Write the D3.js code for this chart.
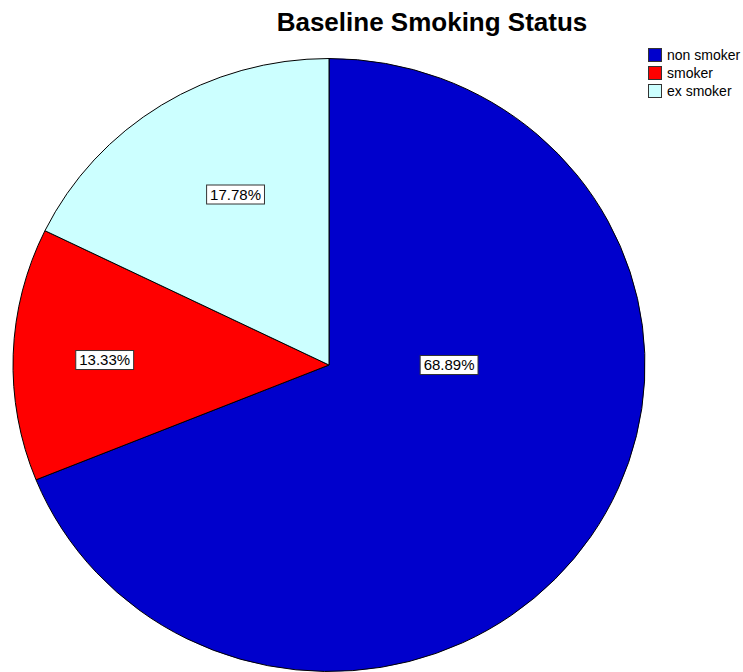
<!DOCTYPE html>
<html>
  <head>
    <title>Baseline Smoking Status</title>
    <script src="https://cdn.jsdelivr.net/npm/d3@7"></script>
    <style>
      body { margin: 0; background: #fff; }
      text { font-family: "Liberation Sans", Arial, sans-serif; }
    </style>
  </head>
  <body>
    <svg width="743" height="672"></svg>

    <script type="text/javascript">
      // data
      var categories = ["non smoker", "smoker", "ex smoker"];
      var percents = [68.89, 13.33, 17.78];
      var colors = ["#0000cc", "#ff0000", "#ccffff"];

      var data = categories.map(function (c, i) {
        return { name: c, value: percents[i], color: colors[i] };
      });

      var svg = d3.select("svg");

      // pie is drawn slightly wider than tall, like the original
      var cx = 329, cy = 365;
      var rx = 316, ry = 306.5;

      var pie = d3.pie().sort(null).value(function (d) { return d.value; });
      var arcs = pie(data);

      var arc = d3.arc().innerRadius(0).outerRadius(rx);

      var g = svg.append("g")
        .attr("transform", "translate(" + cx + "," + cy + ") scale(1," + ry / rx + ")");

      g.selectAll("path")
        .data(arcs)
        .enter()
        .append("path")
        .attr("d", arc)
        .attr("fill", function (d) { return d.data.color; })
        .attr("stroke", "#000")
        .attr("stroke-width", 1)
        .attr("vector-effect", "non-scaling-stroke");

      // label placement (angle in degrees or null = mid angle, radius fraction)
      var labelPlace = {
        "non smoker": { angle: 90, r: 0.38 },
        "smoker": { angle: null, r: 0.71 },
        "ex smoker": { angle: 332, r: 0.63 }
      };

      var labels = svg.append("g");
      arcs.forEach(function (d) {
        var p = labelPlace[d.data.name];
        var a = p.angle === null ? (d.startAngle + d.endAngle) / 2 - 0.012 : p.angle * Math.PI / 180;
        var x = cx + Math.sin(a) * rx * p.r;
        var y = cy - Math.cos(a) * ry * p.r;
        var lg = labels.append("g").attr("transform", "translate(" + x + "," + y + ")");
        var txt = d3.format(".2f")(d.data.value) + "%";
        var t = lg.append("text")
          .attr("text-anchor", "middle")
          .attr("dy", "0.36em")
          .style("font-size", "15px")
          .attr("fill", "#000")
          .text(txt);
        var bb = t.node().getBBox();
        lg.insert("rect", "text")
          .attr("x", bb.x - 3.5)
          .attr("y", -9.5)
          .attr("width", bb.width + 7)
          .attr("height", 19)
          .attr("fill", "#fff")
          .attr("stroke", "#333")
          .attr("stroke-width", 1);
      });

      // title
      svg.append("text")
        .attr("x", 432)
        .attr("y", 31)
        .attr("text-anchor", "middle")
        .style("font-size", "26px")
        .style("font-weight", "bold")
        .text("Baseline Smoking Status");

      // legend
      var legend = svg.append("g").attr("transform", "translate(648,48)");
      var rows = legend.selectAll("g")
        .data(data)
        .enter()
        .append("g")
        .attr("transform", function (d, i) { return "translate(0," + i * 18 + ")"; });
      rows.append("rect")
        .attr("x", 0.5)
        .attr("y", 0.5)
        .attr("width", 13)
        .attr("height", 13)
        .attr("fill", function (d) { return d.color; })
        .attr("stroke", "#333");
      rows.append("text")
        .attr("x", 19)
        .attr("y", 7)
        .attr("dy", "0.35em")
        .style("font-size", "14px")
        .text(function (d) { return d.name; });
    </script>
  </body>
</html>
